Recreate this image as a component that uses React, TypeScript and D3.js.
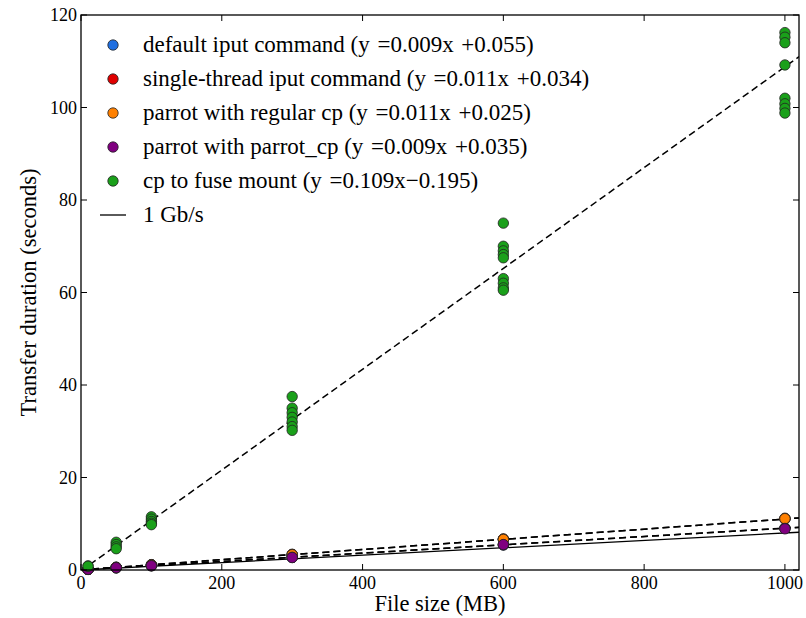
import React, { useEffect, useRef } from 'react';
import * as d3 from 'd3';

// file sizes tested (MB)
const sizes = [10, 50, 100, 300, 600, 1000];

// transfer durations (seconds), several trials per size
const defaultIput = [[0.15, 0.12], [0.5, 0.45], [0.95, 0.9], [2.7, 2.75], [5.5, 5.4], [9.0, 9.1]];
const singleThread = [[0.15, 0.14], [0.6, 0.55], [1.1, 1.15], [3.3, 3.4], [6.6, 6.7], [11.0, 11.1]];
const parrotCp = [[0.14, 0.13], [0.58, 0.56], [1.15, 1.1], [3.35, 3.3], [6.7, 6.6], [11.2, 11.1]];
const parrotParrotCp = [[0.12, 0.13], [0.48, 0.5], [0.95, 0.92], [2.75, 2.7], [5.45, 5.5], [9.0, 8.9]];
const fuseMount = [
  [0.9, 0.8],
  [6.0, 5.5, 5.0, 4.6],
  [11.5, 11.0, 10.5, 10.1, 9.8],
  [37.5, 35.0, 34.0, 33.0, 32.0, 31.0, 30.2],
  [75.0, 70.0, 69.0, 68.2, 67.5, 63.0, 62.0, 61.0, 60.5],
  [116.2, 115.2, 114.0, 109.2, 102.0, 100.8, 99.8, 98.8],
];

const seriesNames = [
  'default iput command (y\u2004=0.009x\u2004+0.055)',
  'single-thread iput command (y\u2004=0.011x\u2004+0.034)',
  'parrot with regular cp (y\u2004=0.011x\u2004+0.025)',
  'parrot with parrot_cp (y\u2004=0.009x\u2004+0.035)',
  'cp to fuse mount (y\u2004=0.109x\u22120.195)',
];
const seriesColors = ['#1f6fe0', '#e00000', '#ff8000', '#800080', '#1aa01a'];
const slopes = [0.009, 0.011, 0.011, 0.009, 0.109];
const intercepts = [0.055, 0.034, 0.025, 0.035, -0.195];
const gbpsRate = 125; // MB per second at 1 Gb/s

const xTicks = [0, 200, 400, 600, 800, 1000];
const yTicks = [0, 20, 40, 60, 80, 100, 120];

const App = () => {
  const svgRef = useRef<SVGSVGElement>(null);

  useEffect(() => {
    const svg = d3.select(svgRef.current);
    svg.selectAll('*').remove();

    const width = 806;
    const height = 618;
    const margin = { top: 15, right: 7, bottom: 48, left: 81 };

    const x = d3.scaleLinear().domain([0, 1020]).range([margin.left, width - margin.right]);
    const y = d3.scaleLinear().domain([0, 120]).range([height - margin.bottom, margin.top]);
    const font = '"Liberation Serif", "DejaVu Serif", serif';

    const plot = svg.append('g');
    svg.append('clipPath').attr('id', 'clip')
      .append('rect')
      .attr('x', x(0)).attr('y', y(120))
      .attr('width', x(1020) - x(0)).attr('height', y(0) - y(120));

    const clipped = plot.append('g').attr('clip-path', 'url(#clip)');

    // fit lines
    slopes.forEach((s, i) => {
      clipped.append('path')
        .datum([0, 1020])
        .attr('d', d3.line<number>().x(d => x(d)).y(d => y(s * d + intercepts[i])) as any)
        .attr('fill', 'none')
        .attr('stroke', '#000')
        .attr('stroke-width', 1.5)
        .attr('stroke-dasharray', '7,4');
    });
    clipped.append('path')
      .datum([0, 1020])
      .attr('d', d3.line<number>().x(d => x(d)).y(d => y(d / gbpsRate)) as any)
      .attr('fill', 'none')
      .attr('stroke', '#000')
      .attr('stroke-width', 1.3);

    // points
    const allSeries = [defaultIput, singleThread, parrotCp, parrotParrotCp, fuseMount];
    allSeries.forEach((series, i) => {
      const pts = series.flatMap((vals, j) => vals.map(v => ({ sx: sizes[j], v })));
      plot.append('g').selectAll('circle')
        .data(pts)
        .join('circle')
        .attr('cx', d => x(d.sx))
        .attr('cy', d => y(d.v))
        .attr('r', 5.2)
        .attr('fill', seriesColors[i])
        .attr('stroke', '#222')
        .attr('stroke-width', 0.8);
    });

    // frame
    svg.append('rect')
      .attr('x', x(0)).attr('y', y(120))
      .attr('width', x(1020) - x(0)).attr('height', y(0) - y(120))
      .attr('fill', 'none').attr('stroke', '#000').attr('stroke-width', 1.3);

    const tl = 6;
    xTicks.forEach(t => {
      svg.append('line').attr('x1', x(t)).attr('x2', x(t)).attr('y1', y(0)).attr('y2', y(0) - tl).attr('stroke', '#000');
      svg.append('line').attr('x1', x(t)).attr('x2', x(t)).attr('y1', y(120)).attr('y2', y(120) + tl).attr('stroke', '#000');
      svg.append('text').attr('x', x(t)).attr('y', y(0) + 19)
        .attr('text-anchor', 'middle').attr('font-family', font).attr('font-size', 18).text(t);
    });
    yTicks.forEach(t => {
      svg.append('line').attr('x1', x(0)).attr('x2', x(0) + tl).attr('y1', y(t)).attr('y2', y(t)).attr('stroke', '#000');
      svg.append('line').attr('x1', x(1020)).attr('x2', x(1020) - tl).attr('y1', y(t)).attr('y2', y(t)).attr('stroke', '#000');
      svg.append('text').attr('x', x(0) - 4).attr('y', y(t) + 6)
        .attr('text-anchor', 'end').attr('font-family', font).attr('font-size', 18).text(t);
    });

    svg.append('text').attr('x', (x(0) + x(1020)) / 2).attr('y', 611)
      .attr('text-anchor', 'middle').attr('font-family', font).attr('font-size', 22.5).text('File size (MB)');
    svg.append('text')
      .attr('transform', `translate(36,${(y(0) + y(120)) / 2}) rotate(-90)`)
      .attr('text-anchor', 'middle').attr('font-family', font).attr('font-size', 22.5)
      .text('Transfer duration (seconds)');

    // legend
    const leg = svg.append('g');
    const rowY = (i: number) => 45 + i * 34;
    seriesNames.forEach((name, i) => {
      leg.append('circle').attr('cx', 113).attr('cy', rowY(i)).attr('r', 5.2)
        .attr('fill', seriesColors[i]).attr('stroke', '#222').attr('stroke-width', 0.8);
      leg.append('text').attr('x', 143).attr('y', rowY(i) + 7)
        .attr('font-family', font).attr('font-size', 23).text(name);
    });
    leg.append('line').attr('x1', 100).attr('x2', 126).attr('y1', rowY(5)).attr('y2', rowY(5))
      .attr('stroke', '#000').attr('stroke-width', 1.3);
    leg.append('text').attr('x', 143).attr('y', rowY(5) + 7)
      .attr('font-family', font).attr('font-size', 23).text('1 Gb/s');
  }, []);

  return <svg ref={svgRef} width={806} height={618} style={{ display: 'block', position: 'absolute', left: 0, top: 0 }}></svg>;
};

export default App;
